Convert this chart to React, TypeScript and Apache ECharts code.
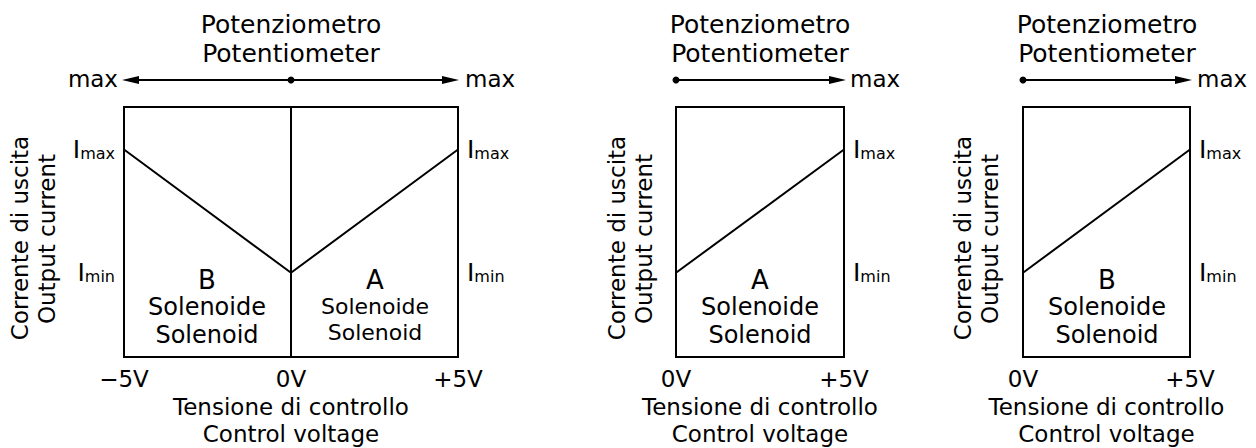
import React, { useEffect, useRef } from "react";
import * as echarts from "echarts";

// ---- data ----
const IMAX = 8.3;
const IMIN = 3.37;
const currentTicks = [IMIN, IMAX];
const panel1Voltage = [-5, 0, 5];
const panel1Current = [IMAX, IMIN, IMAX];
const panel2Voltage = [0, 5];
const panel2Current = [IMIN, IMAX];
const panel3Voltage = [0, 5];
const panel3Current = [IMIN, IMAX];
const titleLines = ["Potenziometro", "Potentiometer"];
const xNameLines = ["Tensione di controllo", "Control voltage"];
const yNameLines = ["Corrente di uscita", "Output current"];

const FF = "'DejaVu Sans', sans-serif";
const BLACK = "#000";

const grids = [
  { left: 124, top: 107, width: 334, height: 250 },
  { left: 676, top: 107, width: 168, height: 250 },
  { left: 1023, top: 107, width: 167, height: 250 },
];

function vLabel(v: number) {
  if (v === 0) return "0V";
  return (v > 0 ? "+" : "\u2212") + Math.abs(v) + "V";
}
function iLabel(v: number) {
  return Math.abs(v - IMAX) < 1e-6 ? "{i|I}{s|max}" : "{i|I}{s|min}";
}
const rich = {
  i: { fontSize: 25, fontFamily: FF, color: BLACK, verticalAlign: "bottom" },
  s: { fontSize: 16, fontFamily: FF, color: BLACK, verticalAlign: "bottom", padding: [0, 0, 1, 0] },
};

function text(x: number, y: number, t: string, size: number, align = "center", lineHeight?: number, rotation = 0) {
  const style: any = {
    text: t,
    fontSize: size,
    fontFamily: FF,
    fill: BLACK,
    align,
    textAlign: align,
    verticalAlign: "middle",
    textVerticalAlign: "middle",
  };
  if (lineHeight) style.lineHeight = lineHeight;
  return { type: "text", x, y, rotation, silent: true, style };
}
function arrowHead(tip: number, y: number, dir: number) {
  return {
    type: "polygon",
    silent: true,
    shape: { points: [[tip, y], [tip - dir * 17, y - 4], [tip - dir * 17, y + 4]] },
    style: { fill: BLACK },
  };
}
function hline(x1: number, x2: number, y: number) {
  return {
    type: "line",
    silent: true,
    shape: { x1, y1: y, x2, y2: y },
    style: { stroke: BLACK, lineWidth: 2 },
  };
}
function dot(x: number, y: number) {
  return { type: "circle", silent: true, shape: { cx: x, cy: y, r: 3.5 }, style: { fill: BLACK } };
}

export default function App() {
  const ref = useRef<HTMLDivElement>(null);
  useEffect(() => {
    if (!ref.current) return;
    const chart = echarts.init(ref.current, undefined, { renderer: "svg" });

    const xAxisBase = (gridIndex: number, min: number, max: number) => ({
      type: "value",
      gridIndex,
      min,
      max,
      interval: 5,
      axisLine: { show: false },
      axisTick: { show: false },
      splitLine: { show: false },
      axisLabel: {
        showMinLabel: true,
        showMaxLabel: true,
        margin: 10,
        fontSize: 23,
        fontFamily: FF,
        color: BLACK,
        formatter: vLabel,
      },
      name: xNameLines.join("\n"),
      nameLocation: "middle",
      nameGap: 36,
      nameMoveOverlap: false,
      nameTextStyle: { fontSize: 23, fontFamily: FF, color: BLACK, lineHeight: 27 },
    });

    const yAxisLabels = (gridIndex: number, position: string) => ({
      type: "value",
      gridIndex,
      position,
      min: 0,
      max: 10,
      axisLine: { show: false },
      axisTick: { show: false },
      splitLine: { show: false },
      axisLabel: {
        customValues: currentTicks,
        margin: 9,
        formatter: iLabel,
        rich,
      },
    });

    const yAxes: any[] = [
      yAxisLabels(0, "left"), // 0
      yAxisLabels(0, "right"), // 1
      yAxisLabels(1, "right"), // 2
      yAxisLabels(2, "right"), // 3
    ];

    const lineSeries = (xi: number, yi: number, xs: number[], ys: number[], extra: any = {}) => ({
      type: "line",
      xAxisIndex: xi,
      yAxisIndex: yi,
      data: xs.map((x, k) => [x, ys[k]]),
      symbol: "none",
      silent: true,
      lineStyle: { color: BLACK, width: 2 },
      ...extra,
    });

    const graphic: any[] = [];
    // titles
    [291, 760, 1107].forEach((cx) => {
      graphic.push(text(cx, 24, titleLines[0], 25));
      graphic.push(text(cx, 53, titleLines[1], 25));
    });
    // y-axis names (rotated)
    [
      [20, 47],
      [617, 644],
      [963, 990],
    ].forEach(([a, b]) => {
      graphic.push(text(a, 238, yNameLines[0], 23, "center", undefined, Math.PI / 2));
      graphic.push(text(b, 239, yNameLines[1], 23, "center", undefined, Math.PI / 2));
    });
    // panel 1 arrows
    graphic.push(hline(132, 449, 80));
    graphic.push(arrowHead(122, 80, -1));
    graphic.push(arrowHead(459, 80, 1));
    graphic.push(dot(291, 80));
    graphic.push(text(118, 79, "max", 23, "right"));
    graphic.push(text(465, 79, "max", 23, "left"));
    // panel 2 arrow
    graphic.push(hline(676, 836, 80));
    graphic.push(arrowHead(846, 80, 1));
    graphic.push(dot(676, 80));
    graphic.push(text(850, 79, "max", 23, "left"));
    // panel 3 arrow
    graphic.push(hline(1023, 1182, 80));
    graphic.push(arrowHead(1192, 80, 1));
    graphic.push(dot(1023, 80));
    graphic.push(text(1197, 79, "max", 23, "left"));
    // inner labels
    graphic.push(text(207, 280, "B", 26));
    graphic.push(text(207, 321, "Solenoide\nSolenoid", 24, "center", 28));
    graphic.push(text(375, 280, "A", 26));
    graphic.push(text(375, 319, "Solenoide\nSolenoid", 22, "center", 26));
    graphic.push(text(760, 280, "A", 26));
    graphic.push(text(760, 321, "Solenoide\nSolenoid", 24, "center", 28));
    graphic.push(text(1107, 280, "B", 26));
    graphic.push(text(1107, 321, "Solenoide\nSolenoid", 24, "center", 28));

    chart.setOption({
      animation: false,
      backgroundColor: "#fff",
      textStyle: { fontFamily: FF, color: BLACK },
      grid: grids.map((g) => ({
        ...g,
        show: true,
        borderColor: BLACK,
        borderWidth: 2,
        backgroundColor: "transparent",
        containLabel: false,
        outerBoundsMode: "none",
      })),
      xAxis: [xAxisBase(0, -5, 5), xAxisBase(1, 0, 5), xAxisBase(2, 0, 5)],
      yAxis: yAxes,
      series: [
        lineSeries(0, 0, panel1Voltage, panel1Current, {
          markLine: {
            silent: true,
            symbol: "none",
            label: { show: false },
            lineStyle: { color: BLACK, width: 2, type: "solid" },
            data: [{ xAxis: 0 }],
          },
        }),
        lineSeries(1, 2, panel2Voltage, panel2Current),
        lineSeries(2, 3, panel3Voltage, panel3Current),
      ],
      graphic,
    });
    return () => chart.dispose();
  }, []);
  return (
    <div
      ref={ref}
      style={{ position: "fixed", left: 0, top: 0, width: 1256, height: 448, background: "#fff" }}
    />
  );
}
